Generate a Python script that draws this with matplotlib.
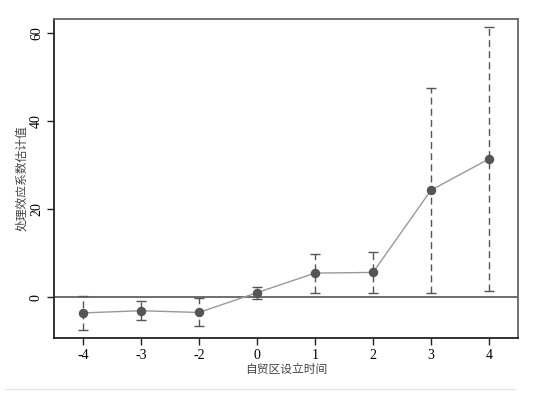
import matplotlib
matplotlib.use("Agg")
import matplotlib.pyplot as plt
from matplotlib.lines import Line2D

periods = ["-4", "-3", "-2", "0", "1", "2", "3", "4"]
coef = [-3.6, -3.1, -3.5, 1.0, 5.45, 5.6, 24.3, 31.4]
ci_low = [-7.5, -5.2, -6.6, -0.5, 0.9, 0.9, 1.0, 1.4]
ci_high = [0.2, -1.0, -0.3, 2.4, 9.9, 10.3, 47.6, 61.4]
yticks = [0, 20, 40, 60]
xlabel = "自贸区设立时间"
ylabel = "处理效应系数估计值"

serif = ["Liberation Serif", "DejaVu Serif"]
cjk = ["Noto Sans CJK SC", "DejaVu Sans"]

fig = plt.figure(figsize=(5.38, 3.94), dpi=100)
ax = fig.add_axes([54/538, 1-338/394, (518-54)/538, (338-19)/394])

x = list(range(len(periods)))
ax.axhline(0, color="#555555", lw=1.2, zorder=1)
for xi, lo, hi in zip(x, ci_low, ci_high):
    ax.vlines(xi, lo, hi, colors="#555555", linestyles=(0, (5, 3)), lw=1.0, zorder=2)
    ax.hlines([lo, hi], xi - 0.09, xi + 0.09, colors="#555555", lw=1.0, zorder=2)
ax.plot(x, coef, color="#999999", lw=1.0, zorder=3)
ax.plot(x, coef, "o", color="#555555", ms=5.8, zorder=4)

ax.set_xlim(-0.5, 7.5)
ax.set_ylim(-9.3, 63.2)
ax.set_xticks(x)
ax.set_xticklabels(periods, fontfamily=serif, fontsize=10)
ax.set_yticks(yticks)
ax.set_yticklabels([str(t) for t in yticks], fontfamily=serif, fontsize=10,
                   rotation=90, va="center")
ax.tick_params(axis="both", length=5, width=1, color="#222222", pad=3)
for s in ["left", "bottom"]:
    ax.spines[s].set_color("#222222")
    ax.spines[s].set_linewidth(1.3)
for s in ["top", "right"]:
    ax.spines[s].set_color("#666666")
    ax.spines[s].set_linewidth(1.3)

ax.set_xlabel(xlabel, fontfamily=cjk, fontsize=8.5, color="#444444", labelpad=0.5)
ax.set_ylabel(ylabel, fontfamily=cjk, fontsize=8.5, color="#444444", labelpad=1)

fig.add_artist(Line2D([5/538, 515/538], [1-389/394, 1-389/394],
                      transform=fig.transFigure, color="#e6e6e6", lw=1))

fig.savefig("out.png", dpi=100, facecolor="white")
